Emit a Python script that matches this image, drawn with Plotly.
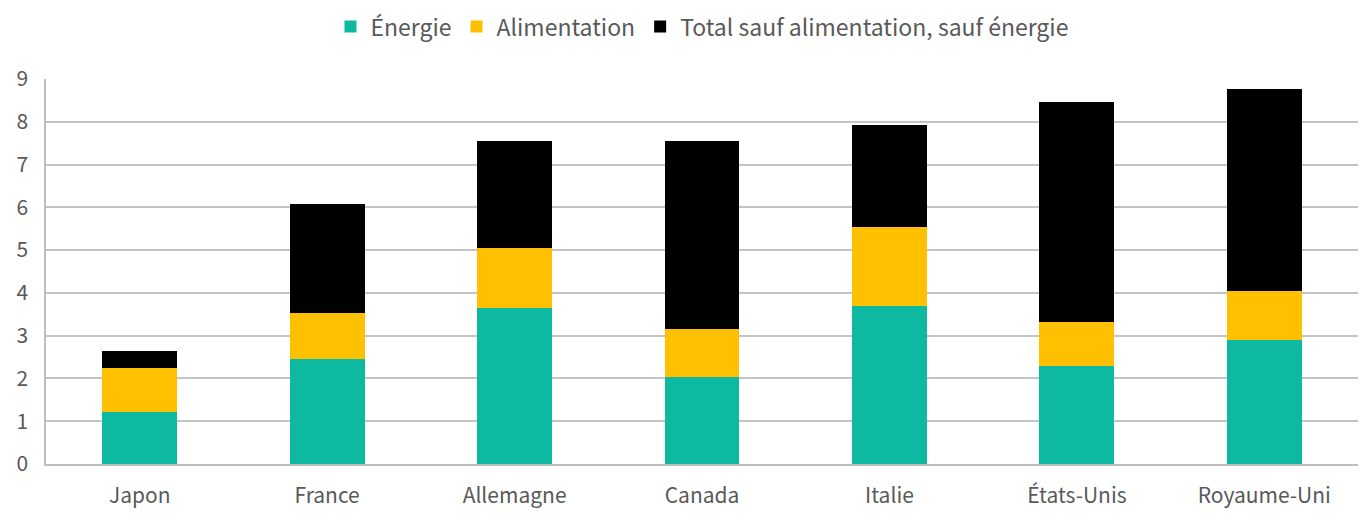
import plotly.graph_objects as go

pays = ["Japon", "France", "Allemagne", "Canada", "Italie", "États-Unis", "Royaume-Uni"]
energie = [1.22, 2.45, 3.64, 2.04, 3.70, 2.30, 2.90]
alimentation = [1.02, 1.07, 1.40, 1.11, 1.84, 1.01, 1.15]
autres = [0.40, 2.55, 2.52, 4.41, 2.39, 5.15, 4.71]

fig = go.Figure()
fig.add_trace(go.Bar(x=pays, y=energie, name="Énergie", marker=dict(color="#0DB9A0", line=dict(width=0))))
fig.add_trace(go.Bar(x=pays, y=alimentation, name="Alimentation", marker=dict(color="#FFC000", line=dict(width=0))))
fig.add_trace(go.Bar(x=pays, y=autres, name="Total sauf alimentation, sauf énergie",
                     marker=dict(color="#000000", line=dict(width=0))))

fig.update_layout(
    barmode="stack",
    bargap=0.6,
    width=1367, height=513,
    margin=dict(l=46, r=9, t=79, b=49, autoexpand=False),
    plot_bgcolor="white", paper_bgcolor="white",
    font=dict(family="Noto Sans CJK JP", size=21, color="#595959"),
    legend=dict(orientation="h", x=0.5, xanchor="center", y=0.99, yanchor="top",
                yref="container", traceorder="normal",
                font=dict(size=23, color="#595959"),
                itemwidth=30),
    showlegend=True,
)
fig.update_xaxes(showline=True, linecolor="#BFBFBF", linewidth=1.5, ticks="", showgrid=False,
                 tickfont=dict(size=21, color="#595959"), ticklabelstandoff=12)
fig.update_yaxes(range=[0, 9], dtick=1, showgrid=True, gridcolor="#C4C4C4", gridwidth=1.5,
                 showline=True, linecolor="#BFBFBF", linewidth=1.5, zeroline=False,
                 ticks="", tickfont=dict(size=21, color="#595959"), ticklabelstandoff=12)

fig.write_html("out.html", config={"displayModeBar": False},
               post_script="document.body.style.margin='0';document.body.style.overflow='hidden';")
